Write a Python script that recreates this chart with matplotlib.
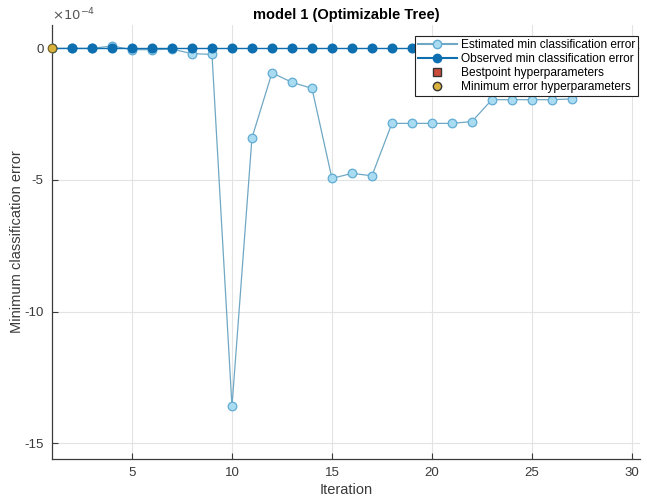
import matplotlib
matplotlib.use("Agg")
import matplotlib.pyplot as plt
from matplotlib.lines import Line2D

plt.rcParams['font.family'] = ['Liberation Sans', 'DejaVu Sans']
plt.rcParams['axes.unicode_minus'] = False

# Values in units of 1e-4
iterations_est = list(range(1, 28))
estimated_min_error = [0.0, 0.0, 0.0, 0.09, -0.05, -0.05, -0.03, -0.2, -0.23,
                       -13.6, -3.4, -0.93, -1.29, -1.52, -4.94, -4.75, -4.84,
                       -2.85, -2.85, -2.85, -2.85, -2.78, -1.95, -1.95, -1.95,
                       -1.95, -1.92]
iterations_obs = list(range(1, 31))
observed_min_error = [0.0] * 30
min_error_iter = [1]
min_error_value = [0.0]

x_ticks = [5, 10, 15, 20, 25, 30]
y_ticks = [-15, -10, -5, 0]

est_line = '#6fa8c4'
est_face = '#a9dbf1'
est_edge = '#62acd3'
obs_color = '#0e6fb0'

fig = plt.figure(figsize=(6.47, 5.04), dpi=100)
ax = fig.add_axes([0.0804, 0.0893, 0.9086, 0.8607])

ax.plot(iterations_est, estimated_min_error, '-o', color=est_line, lw=0.9,
        markersize=6.2, markerfacecolor=est_face, markeredgecolor=est_edge,
        markeredgewidth=0.9, zorder=3)
ax.plot(iterations_obs, observed_min_error, '-o', color=obs_color, lw=1.0,
        markersize=6.2, markerfacecolor=obs_color, markeredgecolor=obs_color,
        zorder=4)
ax.plot(min_error_iter, min_error_value, 'o', markersize=6.2,
        markerfacecolor='#d9b23e', markeredgecolor='#6b5a20',
        markeredgewidth=0.8, zorder=6, clip_on=False)

ax.set_xlim(1, 30.4)
ax.set_ylim(-15.6, 0.88)
ax.set_xticks(x_ticks)
ax.set_yticks(y_ticks)
ax.set_yticklabels([str(v) for v in y_ticks])

ax.grid(True, color='#e3e3e3', lw=0.8)
ax.set_axisbelow(True)
for s in ['top', 'right']:
    ax.spines[s].set_visible(False)
for s in ['left', 'bottom']:
    ax.spines[s].set_color('#3a3a3a')
    ax.spines[s].set_linewidth(0.9)
ax.tick_params(direction='in', length=4, width=0.8, colors='#3a3a3a',
               labelsize=9.5, labelcolor='#3a3a3a', pad=6)

ax.set_xlabel('Iteration', fontsize=10.5, color='#3a3a3a', labelpad=3)
ax.set_ylabel('Minimum classification error', fontsize=10.5,
              color='#3a3a3a', labelpad=0)
ax.set_title('model 1 (Optimizable Tree)', fontsize=10.5, fontweight='bold',
             pad=4.5)
ax.text(0.0, 1.005, r'$\times10^{-4}$', transform=ax.transAxes, fontsize=9.5,
        color='#555555', ha='left', va='bottom')

handles = [
    Line2D([], [], color=est_line, marker='o', markerfacecolor=est_face,
           markeredgecolor=est_edge, markersize=6),
    Line2D([], [], color=obs_color, marker='o', markerfacecolor=obs_color,
           markeredgecolor=obs_color, markersize=6),
    Line2D([], [], ls='none', marker='s', markerfacecolor='#cc4c3c',
           markeredgecolor='#333333', markersize=6),
    Line2D([], [], ls='none', marker='o', markerfacecolor='#d9b23e',
           markeredgecolor='#333333', markersize=6),
]
labels = ['Estimated min classification error',
          'Observed min classification error',
          'Bestpoint hyperparameters',
          'Minimum error hyperparameters']
leg = ax.legend(handles, labels, loc='upper right',
                bbox_to_anchor=(0.9966, 0.975), fontsize=8.6, frameon=True,
                fancybox=False, edgecolor='#222222', framealpha=1,
                borderpad=0.25, labelspacing=0.18, handlelength=3.3,
                handletextpad=0.3, borderaxespad=0)
leg.get_frame().set_linewidth(0.8)
leg.set_zorder(10)

fig.savefig('out.png', dpi=100)
